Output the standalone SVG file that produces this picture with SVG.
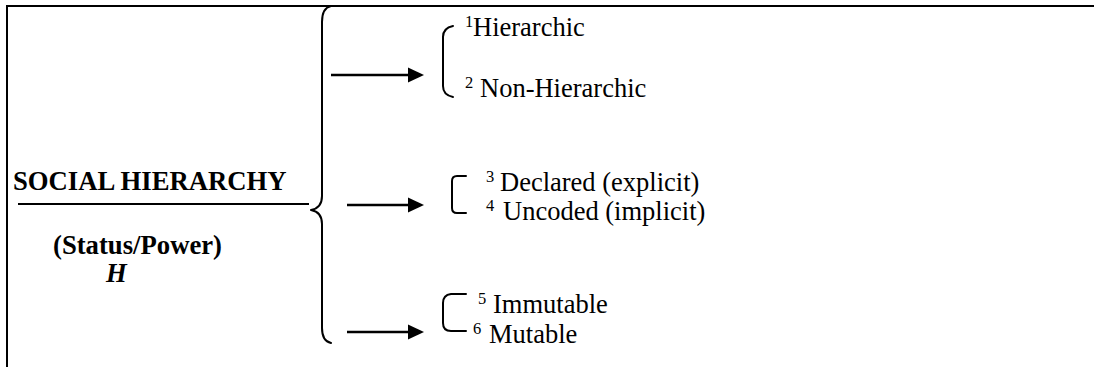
<svg xmlns="http://www.w3.org/2000/svg" width="1094" height="367" viewBox="0 0 1094 367">
  <style>
    .frame { fill: none; stroke: #000; stroke-width: 2; }
    .brace { fill: none; stroke: #000; stroke-width: 2; stroke-linecap: round; stroke-linejoin: round; }
    .edge { fill: none; stroke: #000; stroke-width: 2.5; }
    text { font-family: "Liberation Serif", "Times New Roman", serif; fill: #000; }
    .title { font-weight: bold; font-size: 26.7px; }
    .item { font-size: 26.5px; }
    .sup { font-size: 16.5px; }
  </style>
  <defs>
    <marker id="head" markerUnits="userSpaceOnUse" markerWidth="16" markerHeight="16" refX="4" refY="8" orient="auto">
      <path d="M0,0.5 L16,8 L0,15.5 Z" fill="#000"/>
    </marker>
  </defs>

  <rect width="1094" height="367" fill="#fff"/>

  <!-- open frame: top rule and left rule -->
  <g id="frame">
    <path class="frame" d="M7,367 L7,6 L1094,6"/>
  </g>

  <!-- main concept -->
  <g id="social-hierarchy">
    <text class="title" x="13" y="190">SOCIAL HIERARCHY</text>
    <line class="frame" x1="18" y1="204" x2="309" y2="204"/>
    <text class="title" x="53" y="254">(Status/Power)</text>
    <text class="title" x="106" y="282" font-style="italic">H</text>
  </g>

  <!-- large curly brace -->
  <g id="main-brace">
    <path class="brace" d="M331,6 Q322,8 322,22 L322,196 Q322,208 311,210 Q322,212 322,224 L322,328 Q322,341 331,343"/>
  </g>

  <!-- dimension 1 -->
  <g id="ranking">
    <path class="brace" d="M453,26 Q443,28 443,37 L443,86 Q443,95 453,97"/>
    <text class="item" y="36"><tspan class="sup" x="465" dy="-9">1</tspan><tspan x="473" dy="9">Hierarchic</tspan></text>
    <text class="item" y="97"><tspan class="sup" x="465" dy="-9">2</tspan><tspan x="480" dy="9">Non-Hierarchic</tspan></text>
  </g>

  <!-- dimension 2 -->
  <g id="coding">
    <path class="brace" d="M466,176 L457,176 Q452,176 452,181 L452,208 Q452,213 457,213 L466,213"/>
    <text class="item" y="191"><tspan class="sup" x="486" dy="-9">3</tspan><tspan x="500" dy="9">Declared (explicit)</tspan></text>
    <text class="item" y="220"><tspan class="sup" x="486" dy="-9">4</tspan><tspan x="503" dy="9">Uncoded (implicit)</tspan></text>
  </g>

  <!-- dimension 3 -->
  <g id="stability">
    <path class="brace" d="M466,294 L451,294 Q443,295 443,303 L443,323 Q443,331 451,331 L466,331"/>
    <text class="item" y="313"><tspan class="sup" x="478" dy="-9">5</tspan><tspan x="493" dy="9">Immutable</tspan></text>
    <text class="item" y="343"><tspan class="sup" x="473" dy="-9">6</tspan><tspan x="489" dy="9">Mutable</tspan></text>
  </g>

  <!-- arrows -->
  <g id="connectors">
    <line class="edge" x1="331" y1="75" x2="412" y2="75" marker-end="url(#head)"/>
    <line class="edge" x1="347" y1="205" x2="412" y2="205" marker-end="url(#head)"/>
    <line class="edge" x1="347" y1="332" x2="412" y2="332" marker-end="url(#head)"/>
  </g>
</svg>
